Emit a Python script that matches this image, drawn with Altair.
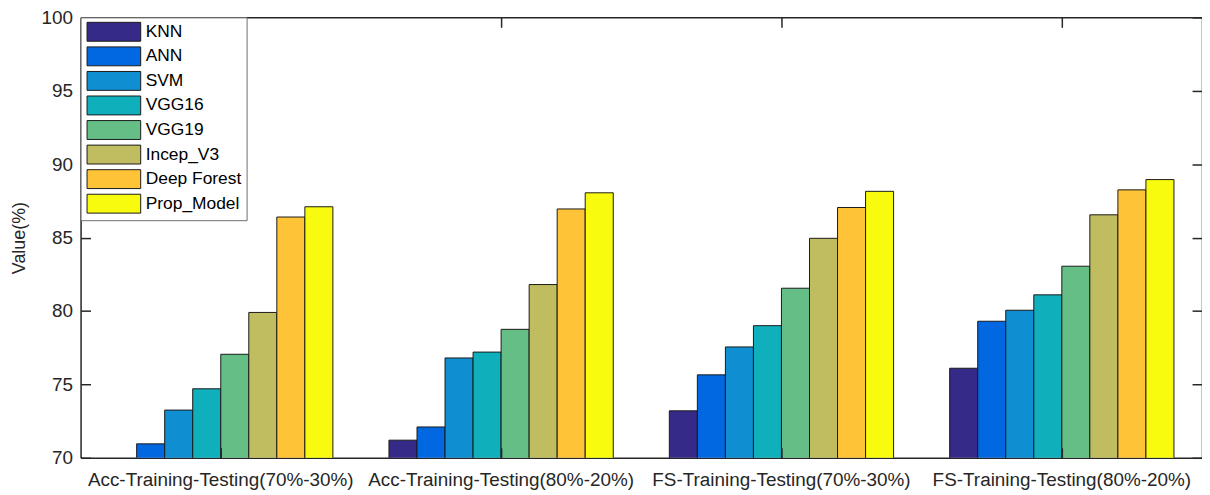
import altair as alt
import pandas as pd

categories = [
    "Acc-Training-Testing(70%-30%)",
    "Acc-Training-Testing(80%-20%)",
    "FS-Training-Testing(70%-30%)",
    "FS-Training-Testing(80%-20%)",
]
models = ["KNN", "ANN", "SVM", "VGG16", "VGG19", "Incep_V3", "Deep Forest", "Prop_Model"]

knn = [69.5, 71.2, 73.2, 76.1]
ann = [70.95, 72.1, 75.65, 79.3]
svm = [73.25, 76.8, 77.55, 80.05]
vgg16 = [74.7, 77.2, 79.0, 81.1]
vgg19 = [77.05, 78.75, 81.55, 83.05]
incep_v3 = [79.9, 81.8, 84.95, 86.55]
deep_forest = [86.4, 86.95, 87.05, 88.25]
prop_model = [87.1, 88.05, 88.15, 88.95]

colors = ["#352a87", "#0268e1", "#108ed2", "#0fafbb", "#65be86", "#c0bc60", "#ffc337", "#f9fb0e"]
y_ticks = [70, 75, 80, 85, 90, 95, 100]

series = [knn, ann, svm, vgg16, vgg19, incep_v3, deep_forest, prop_model]
rows = []
for m, vals in zip(models, series):
    for c, v in zip(categories, vals):
        rows.append({"group": c, "model": m, "value": v})
df = pd.DataFrame(rows)

W, H = 1128, 443
FONT = "Liberation Sans"
DOM = "#262626"

xscale = alt.Scale(domain=categories, paddingInner=0.2, paddingOuter=0.1)
yscale = alt.Scale(domain=[70, 100], zero=False, nice=False)

bars = alt.Chart(df).mark_bar(stroke="#1a1a1a", strokeWidth=1, clip=True).encode(
    x=alt.X("group:N", sort=categories, scale=xscale,
            axis=alt.Axis(orient="bottom", title=None, labelAngle=0, ticks=False,
                          domain=True, domainColor=DOM, domainWidth=1.5,
                          labelFont=FONT, labelFontSize=19, labelColor=DOM,
                          labelPadding=13, labelLimit=0)),
    xOffset=alt.XOffset("model:N", sort=models,
                        scale=alt.Scale(domain=models, paddingInner=0, paddingOuter=0)),
    y=alt.Y("value:Q", scale=yscale,
            axis=alt.Axis(orient="left", values=y_ticks, ticks=False, domain=True,
                          domainColor=DOM, domainWidth=1.5, grid=False,
                          labelFont=FONT, labelFontSize=19, labelColor=DOM,
                          labelPadding=8, title="Value(%)", titleFont=FONT,
                          titleFontSize=18, titleFontWeight="normal", titleColor=DOM,
                          titleX=-61, titleY=H / 2, titleAngle=270,
                          titleBaseline="middle", titleAlign="center")),
    color=alt.Color("model:N", sort=models,
                    scale=alt.Scale(domain=models, range=colors),
                    legend=alt.Legend(title=None, orient="none", legendX=0, legendY=0,
                                      symbolType="M-2.84,-1L2.84,-1L2.84,1L-2.84,1Z",
                                      symbolSize=361, symbolStrokeColor="#1a1a1a",
                                      symbolStrokeWidth=1, symbolOffset=19,
                                      labelOffset=22, labelFont=FONT, labelFontSize=17.5,
                                      labelColor="black", padding=4.5, rowPadding=0.7,
                                      fillColor="white", strokeColor="#6e6e6e",
                                      cornerRadius=0, zindex=2, symbolOpacity=1)),
)

tick_common = dict(labels=False, title=None, ticks=True, tickSize=10, tickColor=DOM,
                   tickWidth=1.5, grid=False, zindex=1)

frame_a = alt.Chart(df).mark_point(opacity=0).encode(
    x=alt.X("group:N", sort=categories, scale=xscale,
            axis=alt.Axis(orient="bottom", offset=-H, domain=True, domainColor=DOM,
                          domainWidth=1.5, **tick_common)),
    y=alt.Y("value:Q", scale=yscale,
            axis=alt.Axis(orient="left", offset=-W, values=y_ticks, domain=True,
                          domainColor=DOM, domainWidth=1.5, **tick_common)),
)

frame_b = alt.Chart(df).mark_point(opacity=0).encode(
    x=alt.X("group:N", sort=categories, scale=xscale,
            axis=alt.Axis(orient="top", offset=-H, domain=False, **tick_common)),
    y=alt.Y("value:Q", scale=yscale,
            axis=alt.Axis(orient="right", offset=-W, values=y_ticks, domain=False,
                          **tick_common)),
)

chart = alt.layer(bars, frame_a, frame_b).resolve_axis(
    x="independent", y="independent"
).properties(
    width=W, height=H,
    autosize=alt.AutoSizeParams(type="none"),
    padding={"left": 73, "top": 8, "right": 0, "bottom": 36},
    background="white",
).configure_view(strokeWidth=0)

chart.save("out.html", embed_options={"renderer": "svg", "actions": False})
